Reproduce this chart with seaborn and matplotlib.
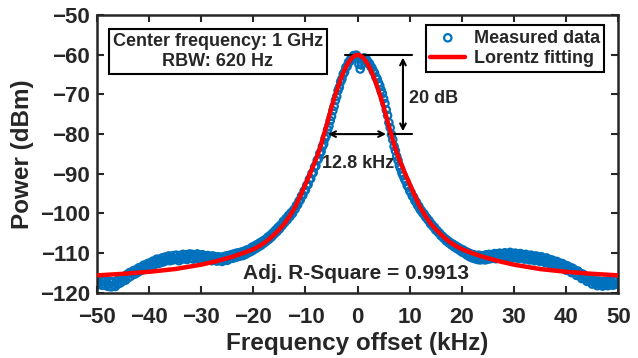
import numpy as np
import pandas as pd
import matplotlib
matplotlib.use("Agg")
import matplotlib.pyplot as plt
import seaborn as sns

# -----------------------------
# Data
# -----------------------------
# measured spectrum, 0.25 kHz spacing
freq_left = np.linspace(-50, -12.25, 152)
power_left = [
    -116.3, -117.9, -117.2, -116.6, -118.1, -117.0, -116.7, -118.2, -117.6, -118.4,
    -117.1, -118.5, -117.3, -118.0, -118.4, -117.0, -117.8, -116.6, -117.5, -116.2,
    -117.0, -115.9, -116.8, -115.4, -116.2, -114.9, -115.8, -115.1, -114.4, -115.3,
    -114.2, -114.9, -113.7, -114.5, -113.5, -114.2, -113.0, -114.0, -113.3, -112.6,
    -113.6, -112.4, -113.2, -112.0, -112.9, -112.2, -111.5, -112.6, -111.6, -112.4,
    -111.2, -112.2, -111.0, -111.9, -111.4, -110.7, -111.9, -110.8, -111.7, -110.6,
    -111.6, -110.5, -111.3, -111.9, -110.6, -111.5, -110.3, -111.4, -110.4, -111.6,
    -110.6, -110.2, -111.3, -110.3, -111.5, -110.6, -111.2, -110.2, -111.4, -110.5,
    -111.6, -110.4, -111.3, -110.7, -111.7, -110.6, -111.5, -110.8, -111.9, -110.7,
    -111.6, -111.0, -112.0, -110.9, -111.8, -111.1, -112.1, -110.9, -111.7, -110.7,
    -111.8, -110.6, -111.4, -110.4, -111.3, -110.2, -111.1, -110.0, -110.9, -109.9,
    -110.7, -109.7, -110.6, -109.5, -110.3, -109.2, -109.9, -109.0, -109.6, -108.5,
    -109.2, -108.2, -108.8, -107.8, -108.4, -107.4, -108.0, -107.0, -107.5, -106.6,
    -107.0, -106.0, -106.5, -105.5, -105.9, -104.9, -105.2, -104.2, -104.6, -103.5,
    -103.9, -102.9, -103.1, -102.0, -102.3, -101.3, -101.6, -100.5, -100.8, -99.8,
    -100.0, -99.1,
]
freq_mid = np.linspace(-12, 12, 97)
power_mid = [
    -98.9, -98.0, -97.8, -96.9, -96.6, -95.6, -95.4, -94.3, -94.1, -92.9,
    -92.7, -91.4, -91.2, -89.9, -89.7, -88.3, -88.0, -86.6, -86.2, -84.9,
    -84.4, -83.1, -82.5, -81.1, -80.4, -78.9, -78.0, -76.6, -75.5, -74.1,
    -73.0, -71.5, -70.5, -69.0, -68.2, -66.8, -66.1, -64.9, -64.4, -63.2,
    -62.9, -61.9, -61.7, -60.9, -60.9, -60.2, -60.4, -60.1,
    -61.0,
    -62.4, -63.6, -62.6, -61.4, -60.8, -61.2, -61.3, -61.9, -62.2, -62.9,
    -63.3, -64.1, -64.6, -65.6, -66.1, -67.1, -67.8, -68.9, -69.8, -71.1,
    -72.3, -73.9, -75.3, -77.1, -78.4, -80.1, -81.4, -83.1, -84.2, -85.6,
    -86.6, -87.9, -88.7, -89.8, -90.5, -91.3, -91.9, -92.9, -93.4, -94.3,
    -94.7, -95.6, -95.9, -96.8, -97.1, -97.9, -98.2, -99.0,
]
freq_right = np.linspace(12.25, 50, 152)
power_right = [
    -99.3, -99.9, -100.1, -100.8, -101.1, -101.6, -101.9, -102.6, -102.8, -103.3,
    -103.5, -104.2, -104.3, -104.8, -105.0, -105.6, -105.7, -106.2, -106.3, -106.9,
    -106.8, -107.4, -107.3, -107.9, -107.7, -108.4, -108.1, -108.8, -108.5, -109.2,
    -108.9, -109.7, -109.2, -110.0, -109.6, -110.5, -109.9, -110.9, -110.2, -111.2,
    -110.4, -111.4, -110.6, -111.6, -110.5, -111.7, -110.7, -111.6, -110.6, -111.7,
    -110.4, -111.5, -110.3, -111.4, -110.5, -111.3, -110.1, -111.4, -110.2, -111.2,
    -110.0, -111.3, -110.4, -111.0, -109.9, -111.1, -110.2, -110.9, -109.8, -111.0,
    -110.1, -111.1, -110.0, -111.2, -110.3, -111.3, -110.1, -111.2, -110.4, -111.5,
    -110.3, -111.4, -110.6, -111.7, -110.5, -111.6, -110.8, -111.9, -110.7, -111.8,
    -111.0, -112.1, -110.9, -112.0, -111.3, -112.4, -111.2, -112.3, -111.6, -112.8,
    -111.7, -112.6, -112.0, -113.2, -112.1, -113.1, -112.5, -113.7, -112.6, -113.6,
    -113.0, -114.3, -113.2, -114.2, -113.6, -114.9, -113.8, -114.8, -114.3, -115.6,
    -114.5, -115.5, -115.1, -116.4, -115.3, -116.3, -115.9, -117.1, -116.1, -117.0,
    -116.6, -117.8, -116.7, -117.6, -117.1, -118.2, -117.0, -117.9, -117.3, -118.3,
    -117.1, -118.0, -117.2, -118.2, -117.0, -117.9, -117.1, -118.1, -116.9, -117.8,
    -116.8, -117.6,
]

# Lorentz fit curve
fit_freq = [-50, -45, -40, -35, -30, -27, -24, -22, -20, -19, -18, -17, -16, -15, -14,
            -13, -12, -11, -10, -9, -8.5, -8, -7.5, -7, -6.5, -6, -5.5, -5, -4.5, -4,
            -3.5, -3, -2.5, -2, -1.5, -1, -0.5, 0, 0.5, 1, 1.5, 2, 2.5, 3, 3.5, 4,
            4.5, 5, 5.5, 6, 6.5, 7, 7.5, 8, 8.5, 9, 10, 11, 12, 13, 14, 15, 16, 17,
            18, 19, 20, 22, 24, 27, 30, 35, 40, 45, 50]
fit_power = [-115.6, -115.2, -114.7, -114.0, -112.9, -112.0, -110.9, -110.0, -109.0, -108.3,
             -107.5, -106.5, -105.3, -104.0, -102.5, -100.6, -98.4, -95.6, -92.6, -89.6,
             -88.0, -86.4, -84.6, -82.6, -80.3, -78.0, -75.6, -73.2, -71.0, -69.0,
             -67.1, -65.3, -63.8, -62.5, -61.5, -60.7, -60.2, -60.0, -60.2, -60.7,
             -61.5, -62.5, -63.8, -65.3, -67.1, -69.0, -71.0, -73.2, -75.6, -78.0,
             -80.3, -82.6, -84.6, -86.4, -88.0, -89.6, -92.6, -95.6, -98.4, -100.6,
             -102.5, -104.0, -105.3, -106.5, -107.5, -108.3, -109.0, -110.0, -110.9, -112.0,
             -112.9, -114.0, -114.7, -115.2, -115.6]

x_ticks = list(range(-50, 51, 10))
y_ticks = list(range(-120, -49, 10))

assert len(freq_left) == len(power_left)
assert len(freq_mid) == len(power_mid)
assert len(freq_right) == len(power_right)
assert len(fit_freq) == len(fit_power)

measured = pd.DataFrame({
    "freq": np.concatenate([freq_left, freq_mid, freq_right]),
    "power": power_left + power_mid + power_right,
})
fit = pd.DataFrame({"freq": fit_freq, "power": fit_power})

# -----------------------------
# Style
# -----------------------------
sns.set_style("ticks")
plt.rcParams["font.family"] = ["Liberation Sans", "DejaVu Sans"]
plt.rcParams["font.weight"] = "bold"
DARK = "#262626"

fig = plt.figure(figsize=(6.38, 3.58), dpi=100)
ax = fig.add_axes([0.152, 0.182, 0.817, 0.776])

sns.scatterplot(data=measured, x="freq", y="power", ax=ax, marker="o",
                facecolors="none", edgecolor="#0072BD", linewidth=1.6, s=28,
                label="Measured data", zorder=2)
sns.lineplot(data=fit, x="freq", y="power", ax=ax, color="#FF0000", linewidth=3.2,
             label="Lorentz fitting", sort=True, zorder=3)

ax.set_xlim(-50, 50)
ax.set_ylim(-120, -50)
ax.set_xticks(x_ticks)
ax.set_yticks(y_ticks)
ax.tick_params(direction="in", length=5, width=1.5, top=True, right=True,
               labelsize=16, colors=DARK)
ax.tick_params(axis="x", pad=10)
ax.tick_params(axis="y", pad=5)
for lab in ax.get_xticklabels() + ax.get_yticklabels():
    lab.set_fontweight("bold")
for sp in ax.spines.values():
    sp.set_visible(True)
    sp.set_linewidth(1.8)
    sp.set_color(DARK)

ax.set_xlabel("Frequency offset (kHz)", fontsize=17.5, fontweight="bold", color=DARK, labelpad=3)
ax.set_ylabel("Power (dBm)", fontsize=17.5, fontweight="bold", color=DARK, labelpad=4)

# legend
leg = ax.legend(loc="upper right", bbox_to_anchor=(0.973, 0.964), borderaxespad=0,
                fontsize=13, frameon=True, fancybox=False, framealpha=1,
                edgecolor="black", handlelength=1.95, handletextpad=0.45,
                borderpad=0.25, labelspacing=0.2)
leg.get_frame().set_linewidth(1.5)
for t in leg.get_texts():
    t.set_fontweight("bold")

# info box
ax.text(-26.8, -59.1, "Center frequency: 1 GHz\nRBW: 620 Hz", ha="center", va="center",
        fontsize=13, fontweight="bold", linespacing=1.25,
        bbox=dict(boxstyle="square,pad=0.22", facecolor="white", edgecolor="black", linewidth=1.5))

# 20 dB / 12.8 kHz markers
ax.plot([-2.5, 10.5], [-60, -60], color="black", lw=1.5)
ax.plot([6.0, 10.5], [-80, -80], color="black", lw=1.5)
ax.annotate("", xy=(8.7, -80), xytext=(8.7, -60),
            arrowprops=dict(arrowstyle="<->", color="black", lw=1.5))
ax.annotate("", xy=(6.0, -80), xytext=(-6.2, -80),
            arrowprops=dict(arrowstyle="<->", color="black", lw=1.5))
ax.text(9.8, -71.0, "20 dB", fontsize=13, fontweight="bold", ha="left", va="center")
ax.text(0.1, -87.3, "12.8 kHz", fontsize=13, fontweight="bold", ha="center", va="center")
ax.text(-0.4, -115.0, "Adj. R-Square = 0.9913", fontsize=15, fontweight="bold",
        ha="center", va="center")

fig.savefig("out.png", dpi=100)
